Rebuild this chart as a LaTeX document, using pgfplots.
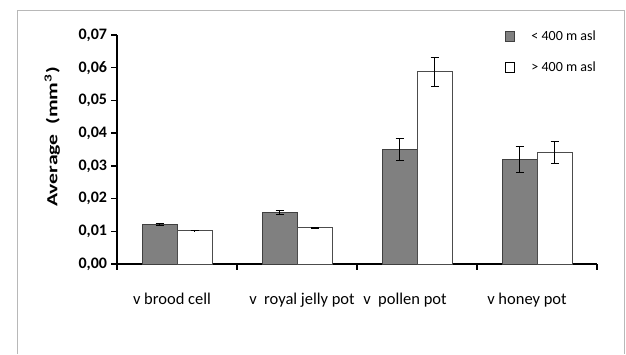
\documentclass[border=0pt]{standalone}
\usepackage{fontspec}
\setmainfont{Carlito}
\usepackage{pgfplots}
\pgfplotsset{compat=1.18}
\definecolor{bargray}{RGB}{128,128,128}
\begin{document}
\begin{tikzpicture}
\useasboundingbox (0pt,0pt) rectangle (626pt,354pt);
\draw[black!28, line width=1pt] (17pt,0pt) -- (17pt,343pt) -- (624pt,343pt) -- (624pt,0pt);
\begin{axis}[
  at={(117pt,90pt)}, anchor=south west,
  scale only axis, width=480pt, height=229pt,
  xmin=0, xmax=4, ymin=0, ymax=0.07,
  clip=false,
  axis x line*=bottom, axis y line*=left,
  axis line style={line width=1.6pt, black},
  tick align=outside,
  major tick length=5.5pt,
  tick style={line width=1.4pt, black},
  xtick={0,1,2,3,4},
  x tick label as interval,
  xticklabels={v brood cell\hspace*{10pt}, \hspace*{10pt}v\ \ royal jelly pot, v\ \ pollen pot\hspace*{24pt}, v honey pot\hspace*{20pt}},
  xticklabel style={font=\fontsize{16.5}{16.5}\selectfont, yshift=-20pt},
  ytick={0,0.01,0.02,0.03,0.04,0.05,0.06,0.07},
  scaled y ticks=false,
  yticklabel style={font=\bfseries\fontsize{16}{16}\selectfont, xshift=-1pt},
  /pgf/number format/.cd, fixed, fixed zerofill, precision=2, use comma, assume math mode=true,
  /pgfplots/.cd,
  ylabel={\scalebox{1.55}[1.1]{Average\ \ (mm\textsuperscript{3})}},
  ylabel style={font=\bfseries\fontsize{14}{14}\selectfont, at={(axis description cs:-0.135,0.555)}, anchor=center},
  ybar=0pt, bar width=35pt,
  legend style={at={(axis description cs:0.808,1.03)}, anchor=north west, draw=none, fill=none,
    font=\fontsize{14}{14}\selectfont, row sep=16pt, inner sep=0pt},
  legend cell align=left,
]
\addplot[bar shift=-17.5pt, fill=bargray, draw=black!75, line width=0.8pt,
  legend image code/.code={\draw[fill=bargray, draw=black!75, line width=0.8pt] (0pt,-5pt) rectangle (9pt,5pt); \path[draw=none, fill=none] (0pt,0pt) -- (24pt,0pt);},
  error bars/.cd, y dir=both, y explicit,
  error bar style={line width=1pt, black},
  error mark options={rotate=90, mark size=4pt, line width=1pt, black}]
  coordinates {(0.5,0.0121) +- (0,0.0002) (1.5,0.0158) +- (0,0.0006) (2.5,0.035) +- (0,0.0035) (3.5,0.032) +- (0,0.0039)};
\addlegendentry{< 400 m asl}
\addplot[bar shift=17.5pt, fill=white, draw=black!70, line width=0.8pt,
  legend image code/.code={\draw[fill=white, draw=black, line width=0.8pt] (0pt,-5pt) rectangle (9pt,5pt); \path[draw=none, fill=none] (0pt,0pt) -- (24pt,0pt);},
  error bars/.cd, y dir=both, y explicit,
  error bar style={line width=1pt, black},
  error mark options={rotate=90, mark size=4pt, line width=1pt, black}]
  coordinates {(0.5,0.0102) +- (0,0.0001) (1.5,0.0111) +- (0,0.0002) (2.5,0.0588) +- (0,0.0044) (3.5,0.034) +- (0,0.0034)};
\addlegendentry{> 400 m asl}
% category separator tick marks below the x axis (axis decoration)
\foreach \t in {1,2,3,4} {
  \edef\temp{\noexpand\draw[black, line width=1.4pt] (axis cs:\t,0) -- ++(0pt,-6pt);}
  \temp
}
\end{axis}
\end{tikzpicture}
\end{document}
